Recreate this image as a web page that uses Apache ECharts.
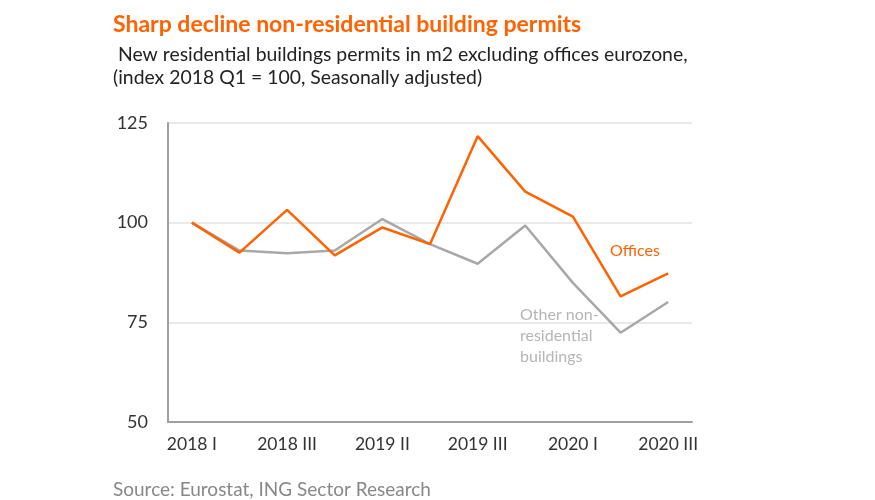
<!DOCTYPE html>
<html><head><meta charset="utf-8">
<script src="https://cdn.jsdelivr.net/npm/echarts@6/dist/echarts.min.js"></script>
<style>html,body{margin:0;padding:0;background:#fff}#c{width:875px;height:500px}</style>
</head><body><div id="c"></div>
<script>
const categories = ["2018 I","2018 II","2018 III","2018 IV","2019 II","2019 II ","2019 III","2019 IV","2020 I","2020 II","2020 III"];
const offices = [100, 92.5, 103.2, 91.8, 98.8, 94.6, 121.7, 107.8, 101.5, 81.5, 87.3];
const otherNonRes = [100, 93.0, 92.3, 93.0, 100.9, 94.6, 89.7, 99.3, 84.9, 72.4, 80.1];
const yTicks = [50, 75, 100, 125];
const FONT = "Lato, 'Open Sans', sans-serif";
const ORANGE = "#ff6200";
const GRAY = "#a8a8a8";
const chart = echarts.init(document.getElementById('c'));
chart.setOption({
  animation: false,
  title: [
    {text: "Sharp decline non-residential building permits", left: 108, top: 8,
     textStyle: {color: ORANGE, fontSize: 23, fontWeight: "bold", fontFamily: FONT}},
    {text: " New residential buildings permits in m2 excluding offices eurozone,\n(index 2018 Q1 = 100, Seasonally adjusted)", left: 108, top: 38,
     textStyle: {color: "#222", fontSize: 19.4, fontWeight: "normal", fontFamily: FONT, lineHeight: 23}},
    {text: "Source: Eurostat, ING Sector Research", left: 108, top: 475,
     textStyle: {color: "#888", fontSize: 19, fontWeight: "normal", fontFamily: FONT}}
  ],
  grid: {left: 168, right: 183, top: 123, bottom: 78},
  xAxis: {
    type: "category", data: categories, boundaryGap: true,
    axisLine: {lineStyle: {color: "#a0a0a0", width: 2}},
    axisTick: {show: false},
    axisLabel: {interval: 1, color: "#333", fontSize: 17.5, fontFamily: FONT, margin: 13}
  },
  yAxis: {
    type: "value", min: yTicks[0], max: yTicks[yTicks.length-1], interval: 25,
    axisLine: {show: true, lineStyle: {color: "#a0a0a0", width: 2}},
    axisTick: {show: false},
    splitLine: {lineStyle: {color: "#e2e2e2", width: 1.5}},
    axisLabel: {color: "#333", fontSize: 18, fontFamily: FONT, margin: 20}
  },
  series: [
    {name: "Other non-residential buildings", type: "line", data: otherNonRes, symbol: "none",
     lineStyle: {color: GRAY, width: 2.5}, z: 2},
    {name: "Offices", type: "line", data: offices, symbol: "none",
     lineStyle: {color: ORANGE, width: 2.5}, z: 3}
  ],
  graphic: [
    {type: "text", left: 610, top: 243, style: {text: "Offices", fill: ORANGE, font: "16px " + FONT}},
    {type: "text", left: 520, top: 304, style: {text: "Other non-\nresidential\nbuildings", fill: "#b5b5b5", font: "16px " + FONT, lineHeight: 21}}
  ]
});
</script></body></html>
